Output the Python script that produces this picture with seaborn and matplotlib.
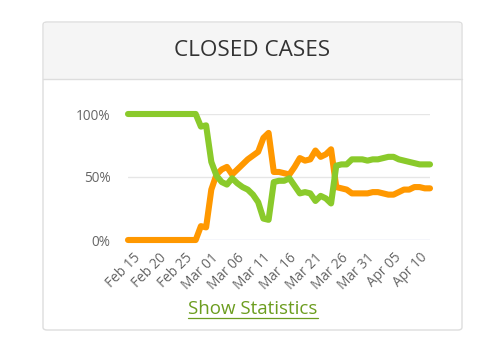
import matplotlib
matplotlib.use("Agg")
import matplotlib.pyplot as plt
import matplotlib.dates as mdates
import matplotlib.transforms as mtransforms
from matplotlib.patches import FancyBboxPatch, Rectangle
import seaborn as sns
import pandas as pd

start_date = "2020-02-15"
n_days = 59
recovered_pct = [100] * 14 + [
    90, 91, 62, 51, 46, 44, 49, 45, 42, 40,
    36, 30, 17, 16, 46, 47, 47, 49, 43, 37,
    38, 37, 31, 35, 33, 29, 59, 60, 60, 64,
    64, 64, 63, 64, 64, 65, 66, 66, 64, 63,
    62, 61, 60, 60, 60]
deaths_pct = [0] * 14 + [
    11, 10, 40, 52, 56, 58, 52, 56, 60, 64,
    67, 70, 81, 85, 54, 54, 53, 52, 58, 65,
    63, 64, 71, 66, 68, 72, 42, 41, 40, 37,
    37, 37, 37, 38, 38, 37, 36, 36, 38, 40,
    40, 42, 42, 41, 41]
y_ticks = [0, 50, 100]
y_tick_labels = ["0%", "50%", "100%"]
title = "CLOSED CASES"
link_text = "Show Statistics"

dates = pd.date_range(start_date, periods=n_days, freq="D")
df = pd.DataFrame({"date": dates, "Recovered": recovered_pct, "Deaths": deaths_pct})
long = df.melt(id_vars="date", var_name="series", value_name="pct")

W, H = 497, 345
fig = plt.figure(figsize=(W / 100, H / 100), dpi=100)
sns.set_style("white")
plt.rcParams["font.family"] = ["Open Sans", "DejaVu Sans"]

def fx(px):
    return px / W

def fy(py):
    return 1 - py / H

# card
card = FancyBboxPatch((fx(43), fy(330)), fx(462) - fx(43), fy(22) - fy(330),
                      boxstyle="round,pad=0,rounding_size=0.008",
                      transform=fig.transFigure, facecolor="white",
                      edgecolor="#dddddd", linewidth=1.0, zorder=-3)
fig.patches.append(card)
header = Rectangle((fx(44), fy(79)), fx(461) - fx(44), fy(23) - fy(79),
                   transform=fig.transFigure, facecolor="#f5f5f5",
                   edgecolor="none", zorder=-2)
fig.patches.append(header)
fig.add_artist(plt.Line2D([fx(43), fx(462)], [fy(79), fy(79)],
                          transform=fig.transFigure, color="#dddddd", lw=1.0, zorder=-1))
fig.text(fx(252), fy(50), title, ha="center", va="center", fontsize=16.2,
         color="#333333", zorder=3)

ax = fig.add_axes([fx(128), fy(240), fx(430) - fx(128), fy(114) - fy(240)])
ax.set_zorder(5)
ax.patch.set_alpha(0)
palette = {"Recovered": "#8ACA2B", "Deaths": "#FF9800"}
sns.lineplot(data=long, x="date", y="pct", hue="series", palette=palette,
             hue_order=["Deaths", "Recovered"], linewidth=4.4, ax=ax,
             legend=False, clip_on=False, solid_capstyle="round",
             solid_joinstyle="round", zorder=5)
ax.set_xlim(dates[0], dates[-1])
ax.set_ylim(0, 100)
ax.set_yticks(y_ticks)
ax.set_yticklabels(y_tick_labels)
for yv in (50, 100):
    ax.axhline(yv, color="#e6e6e6", lw=1.0, zorder=1)
ax.axhline(0, color="#ccd6eb", lw=1.0, zorder=1)
for s in ax.spines.values():
    s.set_visible(False)
ax.set_xlabel("")
ax.set_ylabel("")
ax.set_xticks(dates[::5])
ax.xaxis.set_major_formatter(mdates.DateFormatter("%b %d"))
ax.tick_params(axis="y", length=0, pad=12.5, labelsize=9.8, labelcolor="#666666")
ax.tick_params(axis="x", length=0, pad=7.5, labelsize=9.8, labelcolor="#666666")
offset = mtransforms.ScaledTranslation(5 / 100, 0, fig.dpi_scale_trans)
for lab in ax.get_xticklabels():
    lab.set_rotation(45)
    lab.set_ha("right")
    lab.set_va("top")
    lab.set_rotation_mode("anchor")
    lab.set_transform(lab.get_transform() + offset)

fig.text(fx(253), fy(309), link_text, ha="center", va="center", fontsize=13.5,
         color="#6c9d1f", zorder=3)
fig.add_artist(plt.Line2D([fx(188), fx(318)], [fy(318), fy(318)],
                          transform=fig.transFigure, color="#6c9d1f", lw=0.9))

fig.savefig("out.png", dpi=100)
